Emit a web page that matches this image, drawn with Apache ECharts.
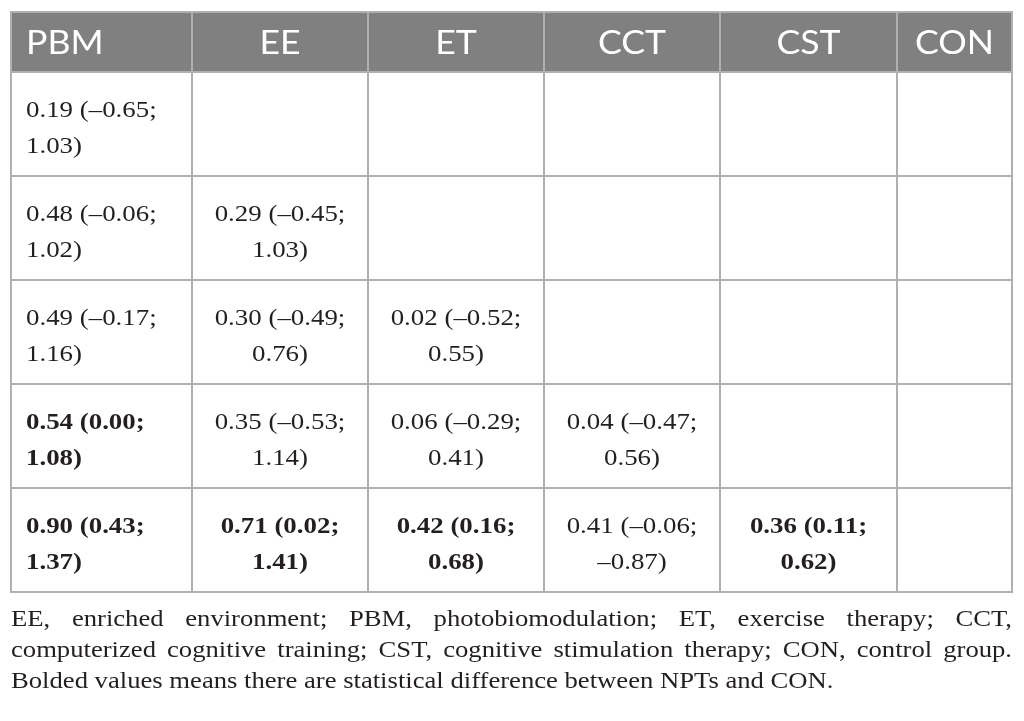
<!DOCTYPE html>
<html>
<head>
<meta charset="utf-8">
<script src="https://cdn.jsdelivr.net/npm/echarts@6/dist/echarts.min.js"></script>
<style>html,body{margin:0;background:#fff}#chart{width:1024px;height:721px}</style>
</head>
<body>
<div id="chart"></div>
<script>
'use strict';
// 组别（表头）
const groups = ['PBM', 'EE', 'ET', 'CCT', 'CST', 'CON'];
// 每行对比值：SMD、下限、上限、是否显著
const est = [[0.19], [0.48, 0.29], [0.49, 0.30, 0.02], [0.54, 0.35, 0.06, 0.04], [0.90, 0.71, 0.42, 0.41, 0.36]];
const lower = [[-0.65], [-0.06, -0.45], [-0.17, -0.49, -0.52], [0.00, -0.53, -0.29, -0.47], [0.43, 0.02, 0.16, -0.06, 0.11]];
const upper = [[1.03], [1.02, 1.03], [1.16, 0.76, 0.55], [1.08, 1.14, 0.41, 0.56], [1.37, 1.41, 0.68, -0.87, 0.62]];
const significant = [[0], [0, 0], [0, 0, 0], [1, 0, 0, 0], [1, 1, 1, 0, 1]];
const footnote = [
    'EE, enriched environment; PBM, photobiomodulation; ET, exercise therapy; CCT,',
    'computerized cognitive training; CST, cognitive stimulation therapy; CON, control group.',
    'Bolded values means there are statistical difference between NPTs and CON.'
];

// 布局
const colW = [181, 176, 176, 176, 177, 115];
const headH = 60, rowH = 104;
const colStart = colW.map((w, i) => colW.slice(0, i).reduce((a, b) => a + b, 0));
const totalW = colW.reduce((a, b) => a + b, 0);
const totalH = headH + rowH * est.length;
const SERIF = '"Liberation Serif", "Times New Roman", serif';
const SANS = 'Lato, "Open Sans", sans-serif';
const INK = '#231f20';
const WIDE = 1.12; // 原图文字偏宽

const fmt = v => v.toFixed(2).replace('-', '–');

// 单元格列表
const cells = [];
groups.forEach((g, c) => cells.push({ c, r: 0, lines: [g], head: true }));
est.forEach((row, r) => {
    groups.forEach((g, c) => {
        const has = c < row.length;
        cells.push({
            c, r: r + 1, head: false,
            bold: has && significant[r][c] === 1,
            lines: has ? [`${fmt(est[r][c])} (${fmt(lower[r][c])};`, `${fmt(upper[r][c])})`] : []
        });
    });
});

const renderCell = (params, api) => {
    const cell = cells[params.dataIndex];
    const x0 = colStart[cell.c], x1 = x0 + colW[cell.c];
    const y0 = cell.r === 0 ? 0 : headH + (cell.r - 1) * rowH;
    const y1 = cell.r === 0 ? headH : y0 + rowH;
    const p0 = api.coord([x0, y0]), p1 = api.coord([x1, y1]);
    const children = [{
        type: 'rect',
        shape: { x: p0[0], y: p0[1], width: p1[0] - p0[0], height: p1[1] - p0[1] },
        style: { fill: cell.head ? '#808080' : '#fff', stroke: '#b0b0b0', lineWidth: 2 }
    }];
    if (cell.lines.length) {
        const left = cell.c === 0;
        children.push({
            type: 'text',
            z2: 10,
            x: left ? p0[0] + 15 : (p0[0] + p1[0]) / 2,
            y: (p0[1] + p1[1]) / 2 + (cell.head ? 1 : 5),
            scaleX: cell.head ? 1.08 : WIDE,
            style: {
                text: cell.lines.join('\n'),
                x: 0, y: 0,
                align: left ? 'left' : 'center',
                verticalAlign: 'middle',
                lineHeight: 36,
                font: cell.head ? `33px ${SANS}` : `${cell.bold ? 'bold ' : ''}24px ${SERIF}`,
                fill: cell.head ? '#fff' : INK
            }
        });
    }
    return { type: 'group', children };
};

// 两端对齐的注释
const noteFont = `24px ${SERIF}`;
const noteScale = 1.11;
const ctx = document.createElement('canvas').getContext('2d');
ctx.font = noteFont;
const noteEls = [];
footnote.forEach((line, i) => {
    const y = 620 + i * 31;
    const last = i === footnote.length - 1;
    if (last) {
        noteEls.push({ type: 'text', x: 11, y, scaleX: noteScale, style: { text: line, font: noteFont, fill: INK, verticalAlign: 'middle' } });
        return;
    }
    const words = line.split(' ');
    const widths = words.map(w => ctx.measureText(w).width * noteScale);
    const gap = (totalW - widths.reduce((a, b) => a + b, 0)) / (words.length - 1);
    let x = 11;
    words.forEach((w, k) => {
        noteEls.push({ type: 'text', x, y, scaleX: noteScale, style: { text: w, font: noteFont, fill: INK, verticalAlign: 'middle' } });
        x += widths[k] + gap;
    });
});

const chart = echarts.init(document.getElementById('chart'), null, { renderer: 'canvas' });
chart.setOption({
    animation: false,
    grid: { left: 11, top: 12, width: totalW, height: totalH },
    xAxis: { type: 'value', min: 0, max: totalW, show: false },
    yAxis: { type: 'value', min: 0, max: totalH, inverse: true, show: false },
    series: [{
        type: 'custom',
        renderItem: renderCell,
        data: cells.map(d => [d.c, d.r]),
        silent: true
    }],
    graphic: noteEls
});
</script>
</body>
</html>
